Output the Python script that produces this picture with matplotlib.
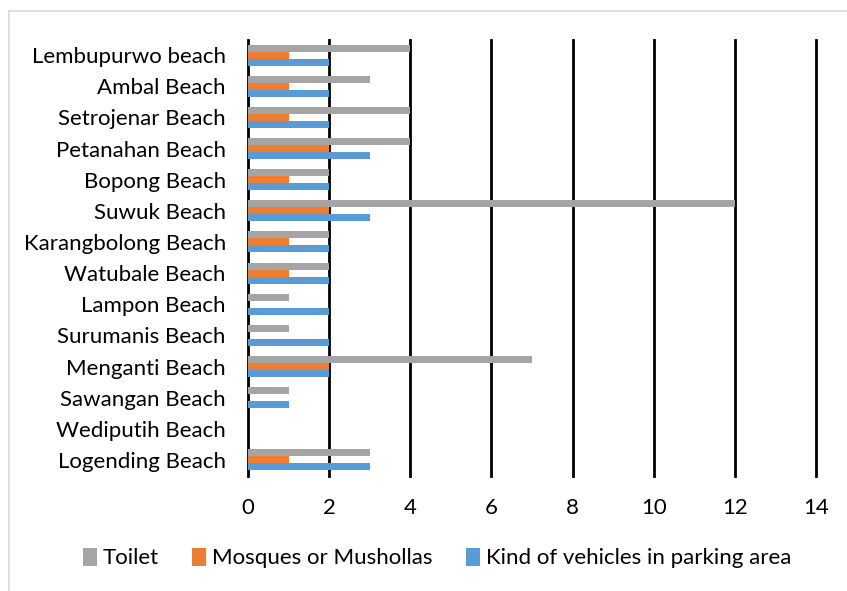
import matplotlib
matplotlib.use("Agg")
import matplotlib.pyplot as plt
from matplotlib.lines import Line2D
import numpy as np

beaches = ["Lembupurwo beach", "Ambal Beach", "Setrojenar Beach", "Petanahan Beach",
           "Bopong Beach", "Suwuk Beach", "Karangbolong Beach", "Watubale Beach",
           "Lampon Beach", "Surumanis Beach", "Menganti Beach", "Sawangan Beach",
           "Wediputih Beach", "Logending Beach"]
toilet = [4, 3, 4, 4, 2, 12, 2, 2, 1, 1, 7, 1, 0, 3]
mosques = [1, 1, 1, 2, 1, 2, 1, 1, 0, 0, 2, 0, 0, 1]
vehicles = [2, 2, 2, 3, 2, 3, 2, 2, 2, 2, 2, 1, 0, 3]
x_ticks = [0, 2, 4, 6, 8, 10, 12, 14]

plt.rcParams["font.family"] = ["Lato", "DejaVu Sans"]

fig = plt.figure(figsize=(8.47, 5.91), dpi=100)
ax = fig.add_axes([248/847, 1-475.5/591, 568/847, 436/591])

y = np.arange(len(beaches))
h = 0.225
ax.barh(y - h, toilet, height=h, color="#A5A5A5", label="Toilet", zorder=3)
ax.barh(y, mosques, height=h, color="#ED7D31", label="Mosques or Mushollas", zorder=3)
ax.barh(y + h, vehicles, height=h, color="#5B9BD5", label="Kind of vehicles in parking area", zorder=3)

ax.set_ylim(len(beaches) - 0.5, -0.5)
ax.set_xlim(0, 14)
ax.set_xticks(x_ticks)
ax.set_yticks(y)
ax.set_yticklabels(beaches)
ax.tick_params(axis="both", length=0, labelsize=16)
ax.tick_params(axis="y", pad=16)
ax.tick_params(axis="x", pad=16)
ax.xaxis.grid(True, color="black", linewidth=2, zorder=1)
for gl in ax.get_xgridlines():
    gl.set_clip_on(False)
for s in ax.spines.values():
    s.set_visible(False)

fig.legend(loc="center", bbox_to_anchor=(437/847, 1-558/591), ncol=3, frameon=False,
           fontsize=16, handlelength=0.63, handleheight=0.9, handletextpad=0.27,
           columnspacing=1.5)

# chart border (left and top only, rest is cropped)
fig.add_artist(Line2D([9/847, 9/847], [0, 1-11/591], color="#D9D9D9", lw=1.2))
fig.add_artist(Line2D([9/847, 1], [1-11/591, 1-11/591], color="#D9D9D9", lw=1.2))

fig.savefig("out.png", dpi=100)
